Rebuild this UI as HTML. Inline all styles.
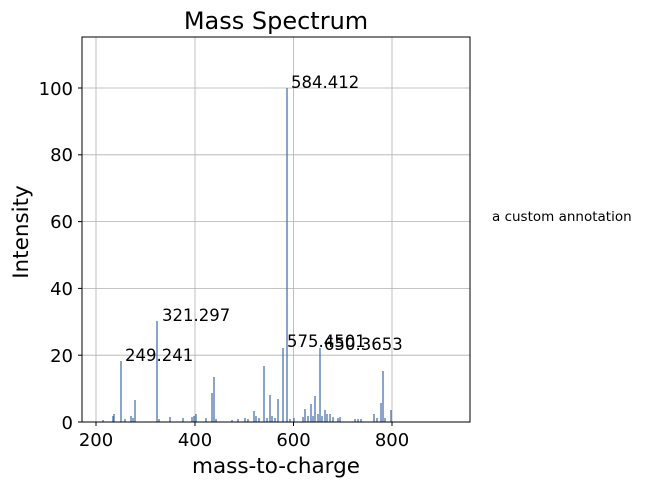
<!DOCTYPE html>
<html><head><style>body{margin:0;background:#fff}svg{display:block;font-family:"DejaVu Sans","Liberation Sans",sans-serif}</style></head>
<body>
<svg width="645" height="486" xmlns="http://www.w3.org/2000/svg">
<rect width="645" height="486" fill="#fff"/>
<g stroke="#b0b0b0" stroke-width="0.8">
<line x1="96" y1="37" x2="96" y2="422"/><line x1="195" y1="37" x2="195" y2="422"/><line x1="293.5" y1="37" x2="293.5" y2="422"/><line x1="392" y1="37" x2="392" y2="422"/>
<line x1="82" y1="355.2" x2="470" y2="355.2"/><line x1="82" y1="288.4" x2="470" y2="288.4"/><line x1="82" y1="221.6" x2="470" y2="221.6"/><line x1="82" y1="154.8" x2="470" y2="154.8"/><line x1="82" y1="88" x2="470" y2="88"/>
</g>
<g stroke="#4c72b0" stroke-width="1.3">
<line x1="103" y1="422" x2="103" y2="420"/><line x1="113" y1="422" x2="113" y2="416"/><line x1="114" y1="422" x2="114" y2="414"/>
<line x1="121" y1="422" x2="121" y2="361"/><line x1="125" y1="422" x2="125" y2="419"/><line x1="131" y1="422" x2="131" y2="416"/><line x1="133" y1="422" x2="133" y2="418"/>
<line x1="135" y1="422" x2="135" y2="400"/><line x1="157" y1="422" x2="157" y2="321"/><line x1="159" y1="422" x2="159" y2="419"/>
<line x1="170" y1="422" x2="170" y2="417"/><line x1="183" y1="422" x2="183" y2="418"/><line x1="192" y1="422" x2="192" y2="417"/><line x1="194" y1="422" x2="194" y2="416"/><line x1="196" y1="422" x2="196" y2="414"/>
<line x1="206" y1="422" x2="206" y2="418"/><line x1="212" y1="422" x2="212" y2="393"/><line x1="214" y1="422" x2="214" y2="377"/><line x1="216" y1="422" x2="216" y2="419"/>
<line x1="232" y1="422" x2="232" y2="420"/><line x1="238" y1="422" x2="238" y2="419"/><line x1="245" y1="422" x2="245" y2="418"/><line x1="248" y1="422" x2="248" y2="419"/>
<line x1="254" y1="422" x2="254" y2="411"/><line x1="256" y1="422" x2="256" y2="416"/><line x1="259" y1="422" x2="259" y2="418"/><line x1="264" y1="422" x2="264" y2="366"/><line x1="267" y1="422" x2="267" y2="418"/>
<line x1="270" y1="422" x2="270" y2="395"/><line x1="272" y1="422" x2="272" y2="416"/><line x1="275" y1="422" x2="275" y2="418"/><line x1="278" y1="422" x2="278" y2="399"/>
<line x1="283" y1="422" x2="283" y2="348"/><line x1="287" y1="422" x2="287" y2="88"/><line x1="290" y1="422" x2="290" y2="419"/><line x1="294" y1="422" x2="294" y2="418"/>
<line x1="303" y1="422" x2="303" y2="417"/><line x1="305" y1="422" x2="305" y2="409"/><line x1="308" y1="422" x2="308" y2="416"/><line x1="311" y1="422" x2="311" y2="404"/><line x1="313" y1="422" x2="313" y2="416"/>
<line x1="315" y1="422" x2="315" y2="396"/><line x1="318" y1="422" x2="318" y2="414"/><line x1="320" y1="422" x2="320" y2="348"/><line x1="322" y1="422" x2="322" y2="416"/>
<line x1="325" y1="422" x2="325" y2="410"/><line x1="327" y1="422" x2="327" y2="414"/><line x1="330" y1="422" x2="330" y2="414"/><line x1="333" y1="422" x2="333" y2="417"/><line x1="338" y1="422" x2="338" y2="418"/><line x1="340" y1="422" x2="340" y2="417"/>
<line x1="355" y1="422" x2="355" y2="419"/><line x1="358" y1="422" x2="358" y2="419"/><line x1="361" y1="422" x2="361" y2="419"/><line x1="374" y1="422" x2="374" y2="414"/><line x1="377" y1="422" x2="377" y2="418"/>
<line x1="381" y1="422" x2="381" y2="403"/><line x1="383" y1="422" x2="383" y2="371"/><line x1="385" y1="422" x2="385" y2="418"/><line x1="391" y1="422" x2="391" y2="410"/>
</g>
<rect x="82" y="37" width="388" height="385" fill="none" stroke="#000" stroke-width="1"/>
<g stroke="#000"><line x1="96" y1="422" x2="96" y2="426"/><line x1="195" y1="422" x2="195" y2="426"/><line x1="293.5" y1="422" x2="293.5" y2="426"/><line x1="392" y1="422" x2="392" y2="426"/>
<line x1="78" y1="422" x2="82" y2="422"/><line x1="78" y1="355.2" x2="82" y2="355.2"/><line x1="78" y1="288.4" x2="82" y2="288.4"/><line x1="78" y1="221.6" x2="82" y2="221.6"/><line x1="78" y1="154.8" x2="82" y2="154.8"/><line x1="78" y1="88" x2="82" y2="88"/></g>
<g font-size="18" text-anchor="middle"><text x="96" y="446">200</text><text x="195" y="446">400</text><text x="293.5" y="446">600</text><text x="392" y="446">800</text></g>
<g font-size="18" text-anchor="end"><text x="73" y="429">0</text><text x="73" y="362">20</text><text x="73" y="295">40</text><text x="73" y="228">60</text><text x="73" y="161">80</text><text x="73" y="95">100</text></g>
<text x="276" y="29" font-size="24" text-anchor="middle">Mass Spectrum</text>
<text x="276" y="473" font-size="21.5" text-anchor="middle">mass-to-charge</text>
<text transform="translate(28,232) rotate(-90)" font-size="21.5" text-anchor="middle">Intensity</text>
<g font-size="16.5"><text x="291" y="88">584.412</text><text x="162" y="321">321.297</text><text x="125" y="361">249.241</text><text x="287" y="347">575.4501</text><text x="324" y="350">650.3653</text></g>
<text x="492" y="221" font-size="13.5">a custom annotation</text>
</svg>
</body></html>
